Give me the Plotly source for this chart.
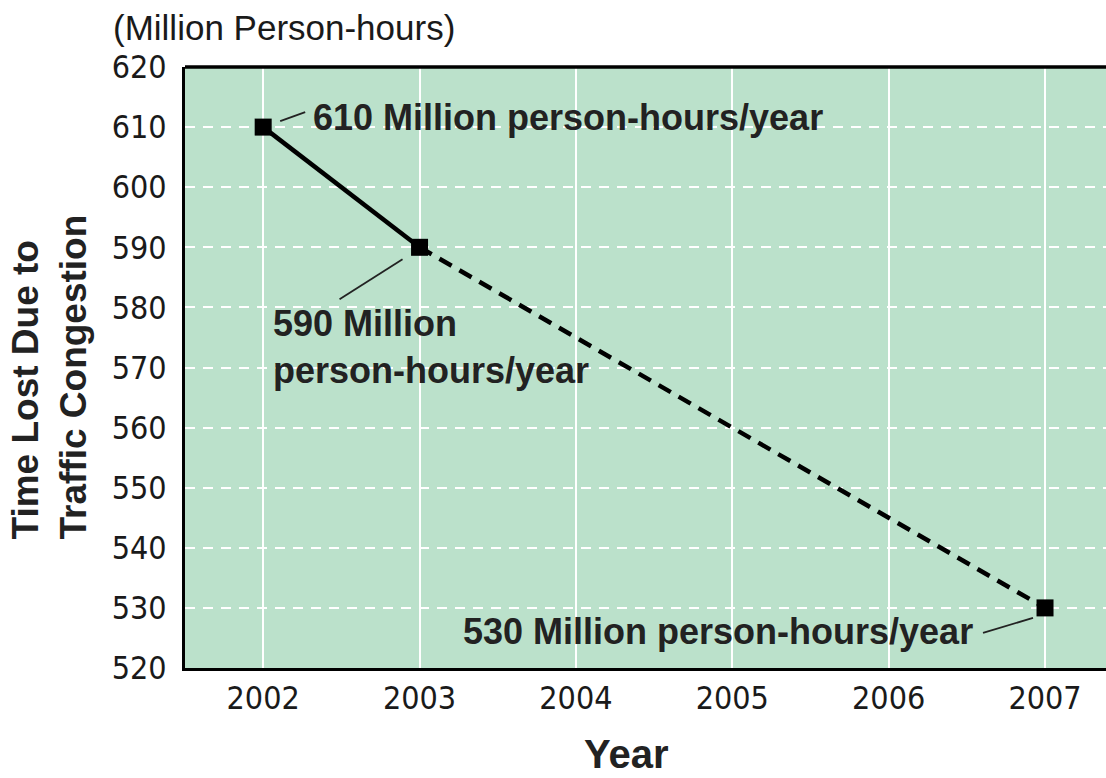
import plotly.graph_objects as go

# Time lost to traffic congestion (million person-hours per year)
years = [2002, 2003, 2007]
hours = [610, 590, 530]
year_ticks = [2002, 2003, 2004, 2005, 2006, 2007]
hour_ticks = [520, 530, 540, 550, 560, 570, 580, 590, 600, 610, 620]

labels = [
    "610 Million person-hours/year",
    "590 Million<br>person-hours/year",
    "530 Million person-hours/year",
]

BG = "#bbe1cb"
INK = "#1a1a1a"
SANS = "Liberation Sans, Arial, Helvetica, sans-serif"
TICK_FONT = dict(family="Liberation Sans Narrow, DejaVu Sans Condensed, Arial Narrow, sans-serif",
                 size=32, color=INK)
BOLD_FONT = dict(family=SANS, size=36, color="#222222", weight="bold")

fig = go.Figure()

# measured segment (solid) and projected segment (dashed)
fig.add_trace(go.Scatter(
    x=years[:2], y=hours[:2], mode="lines",
    line=dict(color="black", width=4.5), showlegend=False, hoverinfo="skip"))
fig.add_trace(go.Scatter(
    x=years[1:], y=hours[1:], mode="lines",
    line=dict(color="black", width=4.5, dash="14px,9px"), showlegend=False, hoverinfo="skip"))
fig.add_trace(go.Scatter(
    x=years, y=hours, mode="markers",
    marker=dict(symbol="square", size=17, color="black"), showlegend=False))

# leader lines from each marker toward its label (pixel offsets)
leaders = [
    (years[0], hours[0], 17, 6, 42, 15),
    (years[1], hours[1], -17, -12, -80, -52),
    (years[2], hours[2], -12, -10, -62, -25),
]
for xa, ya, x0, y0, x1, y1 in leaders:
    fig.add_shape(type="line", xref="x", yref="y",
                  xsizemode="pixel", ysizemode="pixel",
                  xanchor=xa, yanchor=ya, x0=x0, y0=y0, x1=x1, y1=y1,
                  line=dict(color="#222222", width=1.8))

# value labels
fig.add_annotation(x=years[0], y=hours[0], text=labels[0], showarrow=False,
                   xanchor="left", yanchor="middle", xshift=48, yshift=10, font=BOLD_FONT)
fig.add_annotation(x=years[1], y=hours[1], text=labels[1], showarrow=False,
                   xanchor="left", yanchor="middle", align="left",
                   xshift=-149, yshift=-100, font=BOLD_FONT)
fig.add_annotation(x=years[2], y=hours[2], text=labels[2], showarrow=False,
                   xanchor="right", yanchor="middle", xshift=-70, yshift=-24, font=BOLD_FONT)

# unit label above the axis
fig.add_annotation(xref="paper", yref="paper", x=0, y=1, xshift=-185 + 284, yshift=40,
                   text="(Million Person-hours)", showarrow=False,
                   xanchor="center", yanchor="middle",
                   font=dict(family=SANS, size=35, color=INK))

# vertical axis title
fig.add_annotation(xref="paper", yref="paper", x=0, y=0.5, xshift=-185 + 49, yshift=-10,
                   text="Time Lost Due to<br>Traffic Congestion", showarrow=False,
                   textangle=-90, xanchor="center", yanchor="middle", align="left",
                   font=dict(family=SANS, size=37, color="#222222", weight="bold"))

# horizontal axis title
fig.add_annotation(xref="paper", yref="paper", x=0, y=0, xshift=441, yshift=-110,
                   text="Year", showarrow=False, xanchor="center", yanchor="bottom",
                   font=dict(family=SANS, size=40, color="#222222", weight="bold"))

# top frame edge
fig.add_shape(type="line", xref="paper", yref="paper", x0=0, x1=1, y0=1, y1=1,
              line=dict(color="black", width=3.5))

fig.update_layout(
    width=1106, height=778,
    margin=dict(l=185, r=0, t=67, b=110),
    paper_bgcolor="white", plot_bgcolor=BG,
    xaxis=dict(
        range=[2001.5, 2007.39], tickvals=year_ticks,
        ticktext=[str(y) for y in year_ticks],
        showgrid=True, gridcolor="white", gridwidth=2,
        showline=True, linecolor="black", linewidth=3,
        ticks="", tickfont=TICK_FONT, zeroline=False,
    ),
    yaxis=dict(
        range=[520, 620], tickvals=hour_ticks,
        showgrid=True, gridcolor="white", gridwidth=2, griddash="10px,8px",
        showline=True, linecolor="black", linewidth=3,
        ticks="", tickfont=TICK_FONT, zeroline=False, ticklabelstandoff=9,
    ),
)

fig.write_html("out.html")
